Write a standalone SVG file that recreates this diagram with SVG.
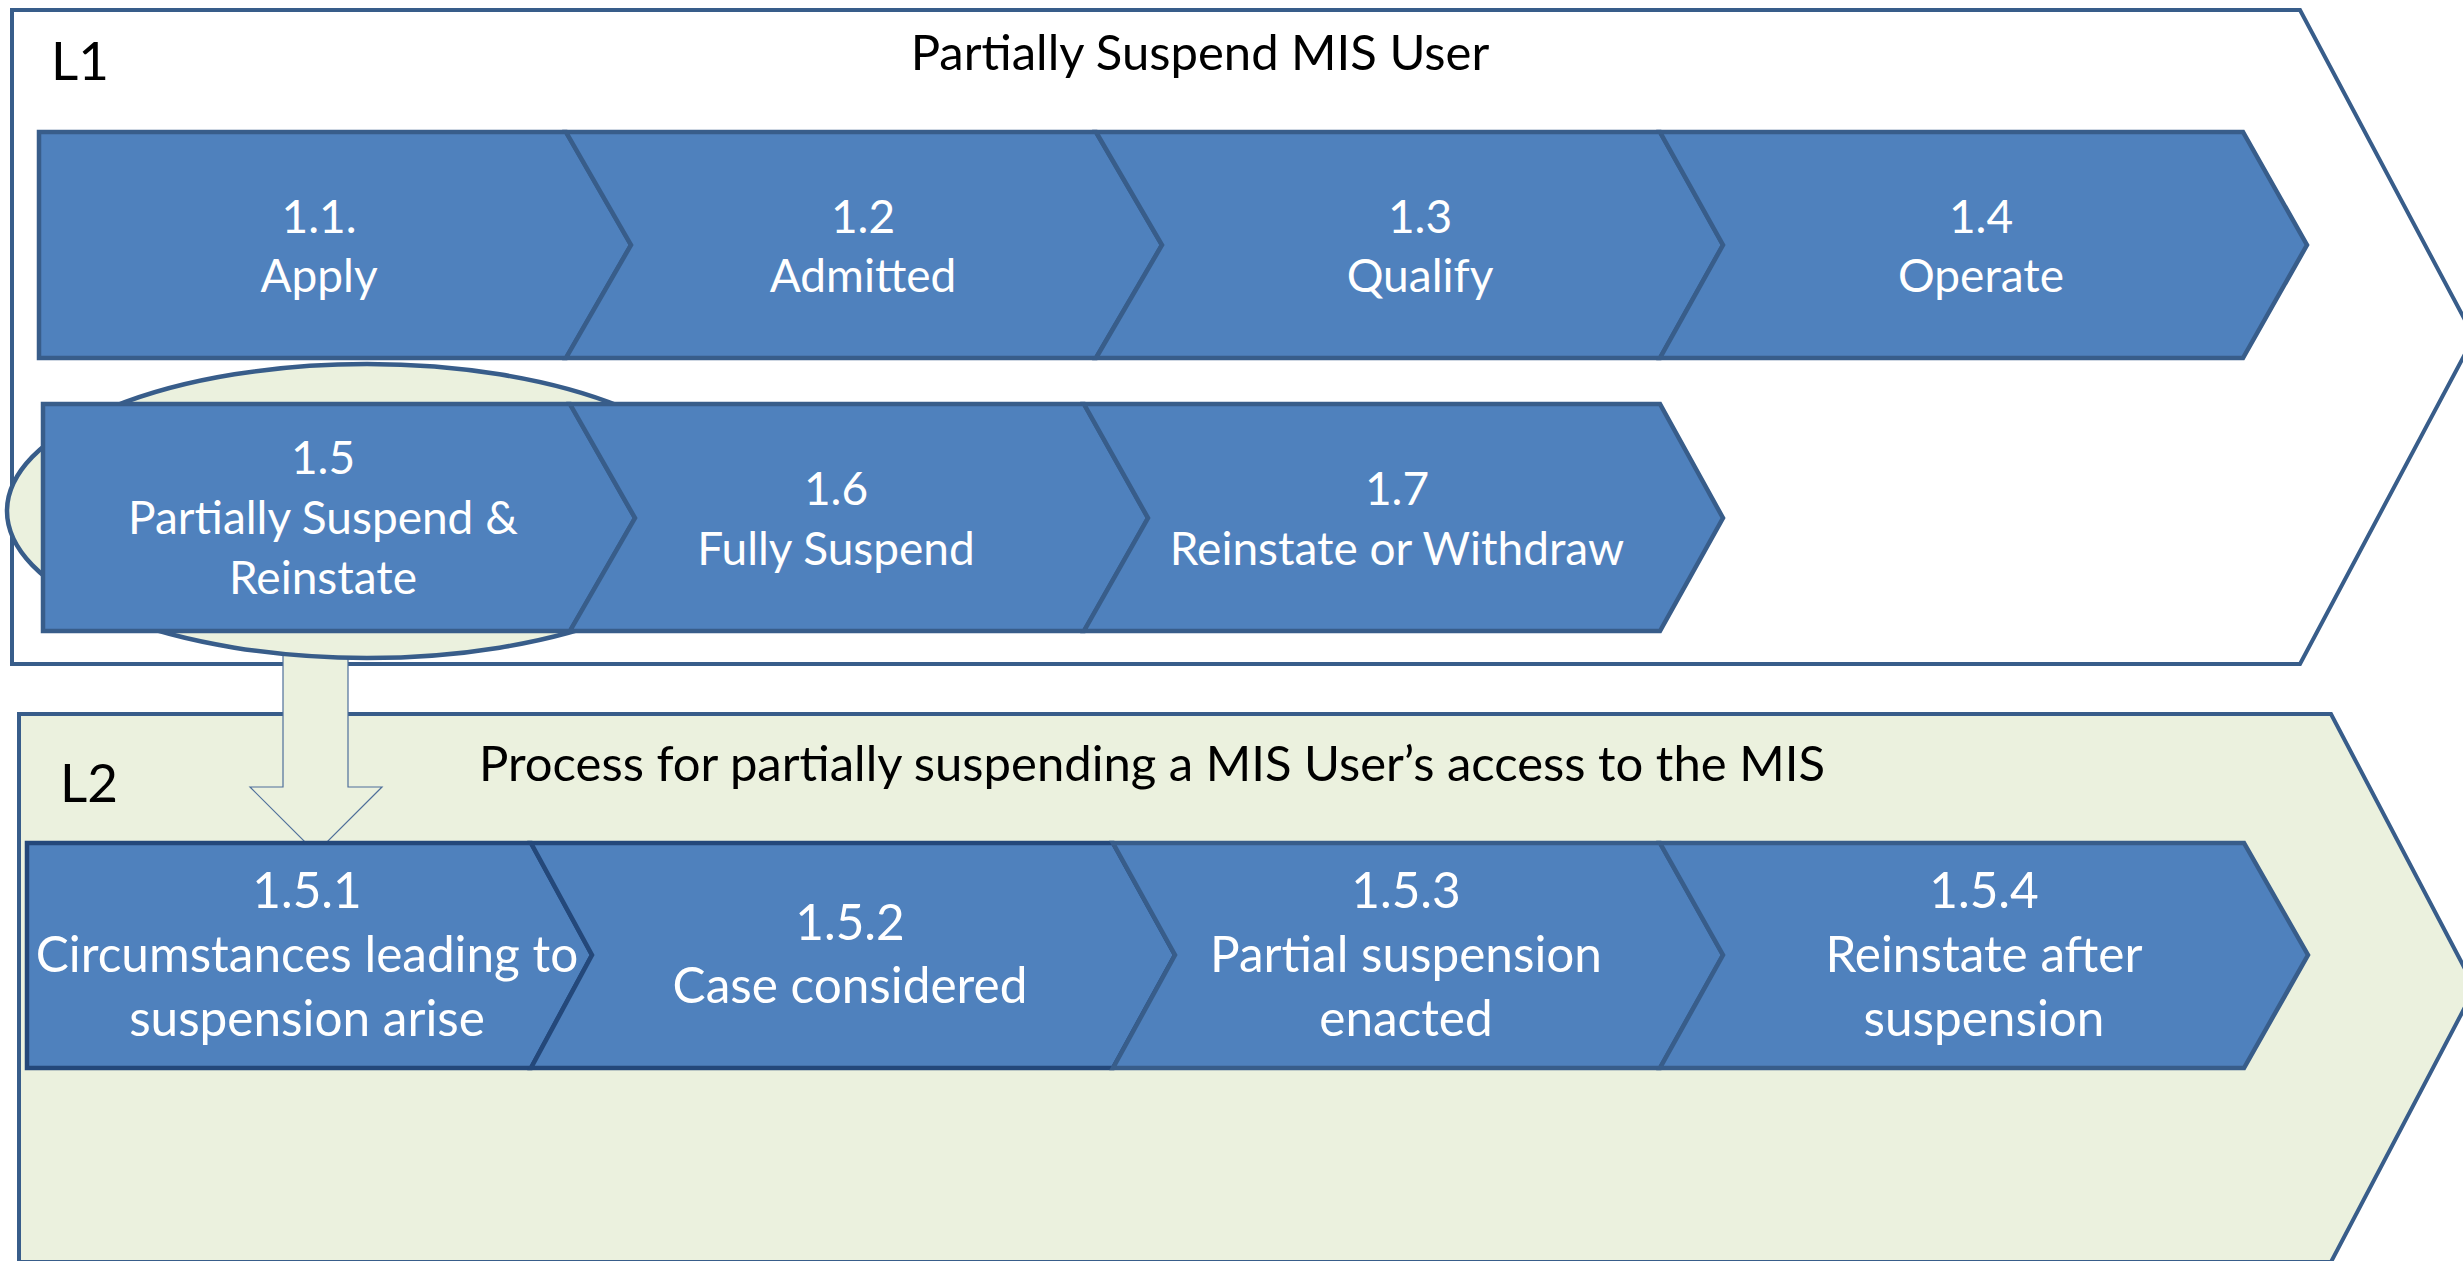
<svg xmlns="http://www.w3.org/2000/svg" width="2463" height="1261" viewBox="0 0 2463 1261">
  <style>
    .frame { stroke: #385D8A; stroke-width: 4; stroke-linejoin: miter; }
    .chev { fill: #4F81BD; stroke: #385D8A; stroke-width: 4.5; stroke-linejoin: miter; }
    .chev2 { fill: #4F81BD; stroke: #24487A; stroke-width: 4.5; stroke-linejoin: miter; }
    .t { font-family: Lato, "Liberation Sans", sans-serif; fill: #FFFFFF; text-anchor: middle; font-size: 46px; }
    .t2 { font-family: Lato, "Liberation Sans", sans-serif; fill: #FFFFFF; text-anchor: middle; font-size: 49.5px; }
    .title { font-family: Lato, "Liberation Sans", sans-serif; fill: #000000; font-size: 49px; }
    .lvl { font-family: Lato, "Liberation Sans", sans-serif; fill: #000000; font-size: 53px; }
  </style>

  <g id="L1-frame">
    <path class="frame" fill="#FFFFFF" d="M12,10 H2300 L2474,337 L2300,664 H12 Z"/>
    <text class="lvl" x="51" y="80">L1</text>
    <text class="title" x="1200" y="70" text-anchor="middle">Partially Suspend MIS User</text>
  </g>

  <g id="L2-frame">
    <path class="frame" fill="#EBF1DE" d="M19,714 H2331 L2475,988 L2331,1262 H19 Z"/>
    <text class="lvl" x="60" y="802">L2</text>
    <text class="title" x="1152" y="781" text-anchor="middle" font-size="48.5">Process for partially suspending a MIS User’s access to the MIS</text>
  </g>

  <g id="connectors">
    <path fill="#EBF1DE" stroke="#4F6F9A" stroke-width="1.2" d="M283,655 H348 V787 H382 L316,853 L250,787 H283 Z"/>
  </g>

  <g id="highlight">
    <ellipse cx="367" cy="511" rx="360" ry="147" fill="#EBF1DE" stroke="#385D8A" stroke-width="4.5"/>
  </g>

  <g id="n1_1">
    <path class="chev" d="M39,132 H566 L631,245 L566,358 H39 Z"/>
    <text class="t" x="319" y="233">1.1.</text>
    <text class="t" x="319" y="292">Apply</text>
  </g>
  <g id="n1_2">
    <path class="chev" d="M566,132 H1096 L1162,245 L1096,358 H566 L631,245 Z"/>
    <text class="t" x="863" y="233">1.2</text>
    <text class="t" x="863" y="292">Admitted</text>
  </g>
  <g id="n1_3">
    <path class="chev" d="M1096,132 H1660 L1723,245 L1660,358 H1096 L1162,245 Z"/>
    <text class="t" x="1420" y="233">1.3</text>
    <text class="t" x="1420" y="292">Qualify</text>
  </g>
  <g id="n1_4">
    <path class="chev" d="M1660,132 H2243 L2307,245 L2243,358 H1660 L1723,245 Z"/>
    <text class="t" x="1981" y="233">1.4</text>
    <text class="t" x="1981" y="292">Operate</text>
  </g>

  <g id="n1_5">
    <path class="chev" d="M43,404 H570 L635,518 L570,631 H43 Z"/>
    <text class="t" x="323" y="474">1.5</text>
    <text class="t" x="323" y="534">Partially Suspend &amp;</text>
    <text class="t" x="323" y="594">Reinstate</text>
  </g>
  <g id="n1_6">
    <path class="chev" d="M570,404 H1084 L1148,518 L1084,631 H570 L635,518 Z"/>
    <text class="t" x="836" y="505">1.6</text>
    <text class="t" x="836" y="565">Fully Suspend</text>
  </g>
  <g id="n1_7">
    <path class="chev" d="M1084,404 H1660 L1723,518 L1660,631 H1084 L1148,518 Z"/>
    <text class="t" x="1397" y="505">1.7</text>
    <text class="t" x="1397" y="565">Reinstate or Withdraw</text>
  </g>

  <g id="n1_5_1">
    <path class="chev2" d="M27,843 H531 L592,955 L531,1068 H27 Z"/>
    <text class="t2" x="307" y="908">1.5.1</text>
    <text class="t2" x="307" y="972">Circumstances leading to</text>
    <text class="t2" x="307" y="1036">suspension arise</text>
  </g>
  <g id="n1_5_2">
    <path class="chev2" d="M531,843 H1113 L1175,955 L1113,1068 H531 L592,955 Z"/>
    <text class="t2" x="850" y="940">1.5.2</text>
    <text class="t2" x="850" y="1003">Case considered</text>
  </g>
  <g id="n1_5_3">
    <path class="chev" d="M1113,843 H1660 L1723,955 L1660,1068 H1113 L1175,955 Z"/>
    <text class="t2" x="1406" y="908">1.5.3</text>
    <text class="t2" x="1406" y="972">Partial suspension</text>
    <text class="t2" x="1406" y="1036">enacted</text>
  </g>
  <g id="n1_5_4">
    <path class="chev" d="M1660,843 H2244 L2308,955 L2244,1068 H1660 L1723,955 Z"/>
    <text class="t2" x="1984" y="908">1.5.4</text>
    <text class="t2" x="1984" y="972">Reinstate after</text>
    <text class="t2" x="1984" y="1036">suspension</text>
  </g>
</svg>
